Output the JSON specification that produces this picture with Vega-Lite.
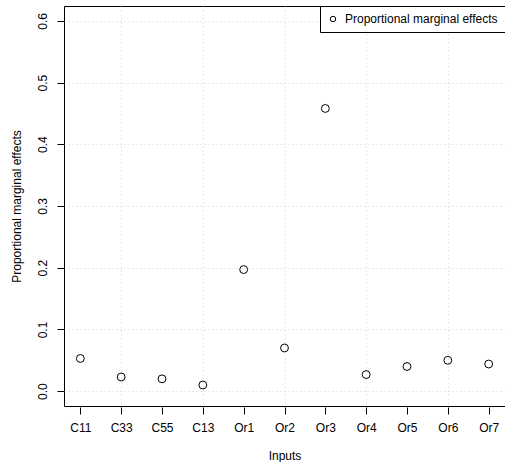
{
  "$schema": "https://vega.github.io/schema/vega-lite/v6.json",
  "autosize": {"type": "none"},
  "padding": {"left": 64, "top": 6, "right": 0, "bottom": 56},
  "width": 441,
  "height": 400,
  "background": "white",
  "config": {
    "font": "Liberation Sans",
    "view": {"stroke": "black", "strokeWidth": 1},
    "axis": {
      "labelFont": "Liberation Sans",
      "labelFontSize": 12,
      "labelColor": "black",
      "titleFont": "Liberation Sans",
      "titleFontSize": 12,
      "titleFontWeight": "normal",
      "titleColor": "black",
      "tickColor": "black",
      "tickSize": 7,
      "domain": false,
      "gridColor": "#d3d3d3",
      "gridDash": [1, 3],
      "gridWidth": 1
    }
  },
  "data": {
    "values": [
      {"input": "C11", "effect": 0.053, "series": "Proportional marginal effects"},
      {"input": "C33", "effect": 0.023, "series": "Proportional marginal effects"},
      {"input": "C55", "effect": 0.020, "series": "Proportional marginal effects"},
      {"input": "C13", "effect": 0.010, "series": "Proportional marginal effects"},
      {"input": "Or1", "effect": 0.197, "series": "Proportional marginal effects"},
      {"input": "Or2", "effect": 0.070, "series": "Proportional marginal effects"},
      {"input": "Or3", "effect": 0.458, "series": "Proportional marginal effects"},
      {"input": "Or4", "effect": 0.027, "series": "Proportional marginal effects"},
      {"input": "Or5", "effect": 0.040, "series": "Proportional marginal effects"},
      {"input": "Or6", "effect": 0.050, "series": "Proportional marginal effects"},
      {"input": "Or7", "effect": 0.044, "series": "Proportional marginal effects"}
    ]
  },
  "mark": {"type": "point", "filled": false, "stroke": "black", "strokeWidth": 1, "size": 62, "opacity": 1},
  "encoding": {
    "x": {
      "field": "input",
      "type": "nominal",
      "sort": null,
      "scale": {"type": "point", "padding": 0.4},
      "axis": {
        "title": "Inputs",
        "labelAngle": 0,
        "labelPadding": 8,
        "titlePadding": 17,
        "offset": 1,
        "grid": true,
        "gridOpacity": {"condition": {"test": "indexof(['C33','C13','Or2','Or4','Or6'], datum.value) >= 0", "value": 1}, "value": 0}
      }
    },
    "y": {
      "field": "effect",
      "type": "quantitative",
      "scale": {"domain": [-0.024, 0.624], "nice": false, "zero": false},
      "axis": {
        "title": "Proportional marginal effects",
        "values": [0, 0.1, 0.2, 0.3, 0.4, 0.5, 0.6],
        "format": ".1f",
        "labelAngle": 270,
        "labelAlign": "center",
        "labelBaseline": "bottom",
        "labelPadding": 8,
        "titlePadding": 13,
        "grid": true
      }
    },
    "shape": {
      "field": "series",
      "type": "nominal",
      "scale": {"range": ["circle"]},
      "legend": {
        "title": null,
        "orient": "top-right",
        "offset": 0,
        "padding": 7,
        "strokeColor": "black",
        "fillColor": "white",
        "cornerRadius": 0,
        "symbolType": "circle",
        "symbolSize": 30,
        "symbolStrokeColor": "black",
        "symbolFillColor": "white",
        "symbolStrokeWidth": 1,
        "labelFont": "Liberation Sans",
        "labelFontSize": 12,
        "labelColor": "black",
        "labelOffset": 6
      }
    }
  }
}
